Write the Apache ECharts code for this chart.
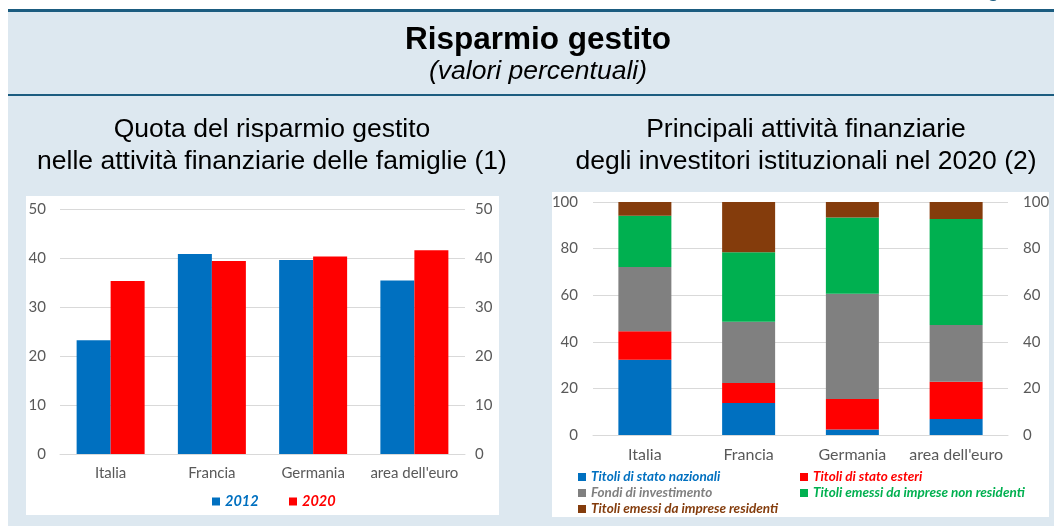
<!DOCTYPE html>
<html>
<head>
<meta charset="utf-8">
<script src="https://cdn.jsdelivr.net/npm/echarts@6/dist/echarts.min.js"></script>
<style>html,body{margin:0;padding:0;background:#fff}#c{width:1054px;height:526px}</style>
</head>
<body>
<div id="c"></div>
<script>
// ---- data ----
const categories = ['Italia', 'Francia', 'Germania', "area dell'euro"];
const quotaSeriesNames = ['2012', '2020'];
const quota2012 = [23.2, 40.8, 39.6, 35.4];
const quota2020 = [35.3, 39.4, 40.3, 41.6];
const attivitaNames = ['Titoli di stato nazionali', 'Titoli di stato esteri', 'Fondi di investimento', 'Titoli emessi da imprese non residenti', 'Titoli emessi da imprese residenti'];
const statoNazionali = [32.3, 13.7, 2.4, 6.9];
const statoEsteri = [12.2, 8.6, 13.1, 16.0];
const fondiInvestimento = [27.6, 26.3, 45.1, 24.3];
const impreseNonResidenti = [22.0, 29.8, 32.8, 45.5];
const impreseResidenti = [5.9, 21.6, 6.6, 7.3];
const leftAxisMax = 50, leftAxisStep = 10;
const rightAxisMax = 100, rightAxisStep = 20;

// ---- styles ----
const C = { blue: '#0070C0', red: '#FF0000', gray: '#808080', green: '#00B050', brown: '#843C0C' };
const tickFont = { color: '#595959', fontFamily: 'Lato', fontSize: 15 };
const gridLine = { lineStyle: { color: '#D9D9D9', width: 1 } };
const legFont = { fontFamily: 'Lato', fontWeight: 'bold', fontStyle: 'italic', fontSize: 13.5 };

function valueAxis(grid, pos, max, step, margin, showSplit) {
  return {
    type: 'value', gridIndex: grid, position: pos, min: 0, max: max, interval: step,
    axisLine: { show: false }, axisTick: { show: false },
    axisLabel: Object.assign({ margin: margin }, tickFont),
    splitLine: Object.assign({ show: showSplit }, gridLine)
  };
}
function catAxis(grid, margin, size) {
  return {
    type: 'category', gridIndex: grid, data: categories,
    axisLine: { show: true, lineStyle: { color: '#D9D9D9' } }, axisTick: { show: false },
    axisLabel: Object.assign({ margin: margin, interval: 0 }, tickFont, { fontSize: size })
  };
}
function leg(name, color, left, top, size) {
  return {
    data: [{ name: name, textStyle: Object.assign({}, legFont, { color: color, fontSize: size || legFont.fontSize }) }],
    left: left, top: top, padding: 0, itemWidth: 8, itemHeight: 8,
    icon: 'rect', selectedMode: false
  };
}

const chart = echarts.init(document.getElementById('c'), null, { renderer: 'canvas' });
const titleFont = 'Liberation Sans';
chart.setOption({
  animation: false,
  backgroundColor: '#ffffff',
  graphic: [
    { type: 'rect', z: -20, shape: { x: 8, y: 11, width: 1046, height: 515 }, style: { fill: '#DDE8F0' } },
    { type: 'rect', z: -19, shape: { x: 8, y: 9, width: 1046, height: 3 }, style: { fill: '#1B5C80' } },
    { type: 'rect', z: -19, shape: { x: 8, y: 94, width: 1046, height: 2 }, style: { fill: '#1B5C80' } },
    { type: 'text', z: -19, x: 1000, y: -19, style: { text: 'Figura', fill: '#1B5C80', font: 'bold 20px "Liberation Sans"', align: 'center' } },
    { type: 'rect', z: -18, shape: { x: 26, y: 196, width: 473, height: 319 }, style: { fill: '#ffffff' } },
    { type: 'rect', z: -18, shape: { x: 552, y: 192, width: 497, height: 325 }, style: { fill: '#ffffff' } },
    { type: 'text', z: -17, x: 538, y: 40, style: { text: 'Risparmio gestito', fill: '#000', font: 'bold 31.5px "' + titleFont + '"', align: 'center', verticalAlign: 'middle' } },
    { type: 'text', z: -17, x: 538, y: 72, style: { text: '(valori percentuali)', fill: '#000', font: 'italic 26.5px "' + titleFont + '"', align: 'center', verticalAlign: 'middle' } },
    { type: 'text', z: -17, x: 272, y: 130, style: { text: 'Quota del risparmio gestito', fill: '#000', font: '26.5px "' + titleFont + '"', align: 'center', verticalAlign: 'middle' } },
    { type: 'text', z: -17, x: 272, y: 162, style: { text: 'nelle attività finanziarie delle famiglie (1)', fill: '#000', font: '26.5px "' + titleFont + '"', align: 'center', verticalAlign: 'middle' } },
    { type: 'text', z: -17, x: 806, y: 130, style: { text: 'Principali attività finanziarie', fill: '#000', font: '26.5px "' + titleFont + '"', align: 'center', verticalAlign: 'middle' } },
    { type: 'text', z: -17, x: 806, y: 162, style: { text: 'degli investitori istituzionali nel 2020 (2)', fill: '#000', font: '26.5px "' + titleFont + '"', align: 'center', verticalAlign: 'middle' } }
  ],
  grid: [
    { left: 60, top: 209, width: 405, height: 245 },
    { left: 593, top: 202, width: 415, height: 233 }
  ],
  xAxis: [catAxis(0, 12, 15), catAxis(1, 12, 16)],
  yAxis: [
    valueAxis(0, 'left', leftAxisMax, leftAxisStep, 14, true),
    valueAxis(0, 'right', leftAxisMax, leftAxisStep, 10, false),
    valueAxis(1, 'left', rightAxisMax, rightAxisStep, 15, true),
    valueAxis(1, 'right', rightAxisMax, rightAxisStep, 15, false)
  ],
  legend: [
    leg(quotaSeriesNames[0], C.blue, 212, 494, 14.5),
    leg(quotaSeriesNames[1], C.red, 289, 494, 14.5),
    leg(attivitaNames[0], C.blue, 578, 470),
    leg(attivitaNames[1], C.red, 800, 470),
    leg(attivitaNames[2], C.gray, 578, 486),
    leg(attivitaNames[3], C.green, 800, 486),
    leg(attivitaNames[4], C.brown, 578, 502)
  ],
  series: [
    { name: quotaSeriesNames[0], type: 'bar', xAxisIndex: 0, yAxisIndex: 0, data: quota2012, itemStyle: { color: C.blue }, barWidth: 34, barGap: '0%' },
    { name: quotaSeriesNames[1], type: 'bar', xAxisIndex: 0, yAxisIndex: 0, data: quota2020, itemStyle: { color: C.red }, barWidth: 34, barGap: '0%' },
    { name: attivitaNames[0], type: 'bar', stack: 'a', xAxisIndex: 1, yAxisIndex: 2, data: statoNazionali, itemStyle: { color: C.blue }, barWidth: 53 },
    { name: attivitaNames[1], type: 'bar', stack: 'a', xAxisIndex: 1, yAxisIndex: 2, data: statoEsteri, itemStyle: { color: C.red }, barWidth: 53 },
    { name: attivitaNames[2], type: 'bar', stack: 'a', xAxisIndex: 1, yAxisIndex: 2, data: fondiInvestimento, itemStyle: { color: C.gray }, barWidth: 53 },
    { name: attivitaNames[3], type: 'bar', stack: 'a', xAxisIndex: 1, yAxisIndex: 2, data: impreseNonResidenti, itemStyle: { color: C.green }, barWidth: 53 },
    { name: attivitaNames[4], type: 'bar', stack: 'a', xAxisIndex: 1, yAxisIndex: 2, data: impreseResidenti, itemStyle: { color: C.brown }, barWidth: 53 }
  ]
});
</script>
</body>
</html>
